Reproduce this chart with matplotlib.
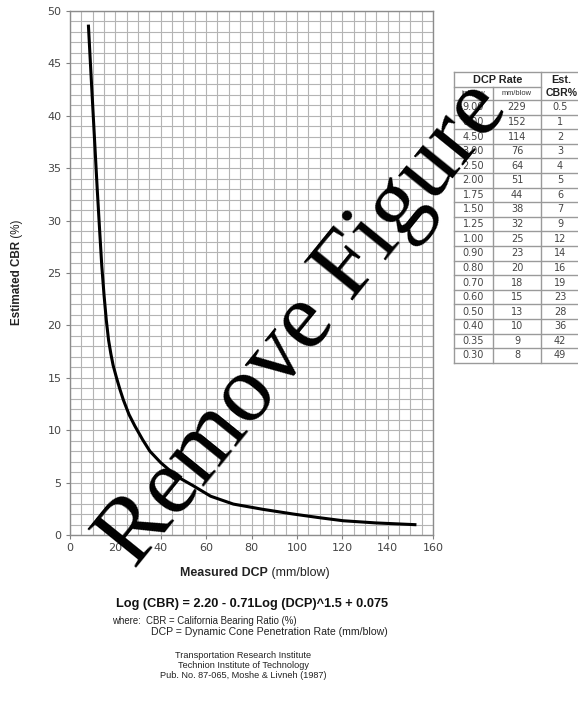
import matplotlib
matplotlib.use("Agg")
import matplotlib.pyplot as plt
from matplotlib.lines import Line2D
import numpy as np

# ---- data ----
curve_dcp = [8.1, 9, 10, 11, 12, 13, 14, 15, 16, 17, 18, 19, 20.5, 22, 23.5, 26, 28.6, 32, 35.2, 40, 47, 54.3, 62, 72, 85, 98.4, 110, 120.4, 135, 152.7]
curve_cbr = [48.7, 45.0, 41.0, 37.0, 33.0, 29.3, 25.7, 22.9, 20.5, 18.6, 17.3, 16.2, 15.0, 13.9, 12.9, 11.5, 10.4, 9.1, 8.0, 6.9, 5.6, 4.7, 3.7, 2.95, 2.45, 2.0, 1.65, 1.36, 1.15, 0.98]

x_ticks = [0, 20, 40, 60, 80, 100, 120, 140, 160]
y_ticks = [0, 5, 10, 15, 20, 25, 30, 35, 40, 45, 50]

tbl_in_blow = ["9.00", "6.00", "4.50", "3.00", "2.50", "2.00", "1.75", "1.50", "1.25", "1.00",
               "0.90", "0.80", "0.70", "0.60", "0.50", "0.40", "0.35", "0.30"]
tbl_mm_blow = ["229", "152", "114", "76", "64", "51", "44", "38", "32", "25",
               "23", "20", "18", "15", "13", "10", "9", "8"]
tbl_cbr = ["0.5", "1", "2", "3", "4", "5", "6", "7", "9", "12",
           "14", "16", "19", "23", "28", "36", "42", "49"]

W, H = 578, 705
plt.rcParams['font.family'] = ['Liberation Sans', 'DejaVu Sans']

fig = plt.figure(figsize=(W / 100, H / 100), dpi=100)
fig.patch.set_facecolor('white')

def fx(x):
    return x / W

def fy(y):
    return 1 - y / H

ax_l, ax_r, ax_t, ax_b = 70, 433, 11, 535
ax = fig.add_axes([fx(ax_l), fy(ax_b), fx(ax_r) - fx(ax_l), fy(ax_t) - fy(ax_b)])
ax.set_xlim(0, 160)
ax.set_ylim(0, 50)
ax.set_xticks(x_ticks)
ax.set_yticks(y_ticks)
ax.set_xticks(np.arange(0, 161, 5), minor=True)
ax.set_yticks(np.arange(0, 51, 1), minor=True)
ax.grid(which='both', color='#b4b4b4', lw=0.8)
ax.set_axisbelow(True)
ax.tick_params(which='minor', length=0)
ax.tick_params(which='major', length=3, color='#808080', labelsize=8, labelcolor='#444444', pad=3)
for lab in ax.get_xticklabels() + ax.get_yticklabels():
    lab.set_family('DejaVu Sans')
for s in ax.spines.values():
    s.set_color('#8c8c8c')
    s.set_linewidth(1.0)

ax.plot(curve_dcp, curve_cbr, color='black', lw=2.2, solid_capstyle='butt')

fig.canvas.draw()
r = fig.canvas.get_renderer()

def mixed(x, y, bold, normal, size, rotation=0):
    t1 = fig.text(0, 0, bold, fontsize=size, fontweight='bold', color='#222222', rotation=rotation)
    t2 = fig.text(0, 0, " " + normal, fontsize=size, color='#222222', rotation=rotation)
    e1 = t1.get_window_extent(r)
    e2 = t2.get_window_extent(r)
    if rotation == 0:
        total = e1.width + e2.width
        x0 = x - total / 2
        t1.set_position((fx(x0), fy(y)))
        t2.set_position((fx(x0 + e1.width), fy(y)))
        t1.set_va('center'); t2.set_va('center')
    else:
        total = e1.height + e2.height
        y0 = y + total / 2
        t1.set_position((fx(x), fy(y0)))
        t2.set_position((fx(x), fy(y0 - e1.height)))
        t1.set_rotation_mode('anchor'); t2.set_rotation_mode('anchor')
        t1.set_va('center'); t2.set_va('center')
        t1.set_ha('left'); t2.set_ha('left')

mixed(255, 573, "Measured DCP", "(mm/blow)", 8.9)
mixed(17, 272, "Estimated CBR", "(%)", 8.4, rotation=90)

fig.text(fx(252), fy(604), "Log (CBR) = 2.20 - 0.71Log (DCP)^1.5 + 0.075", fontsize=9.2,
         fontweight='bold', ha='center', va='center', color='#111111')
fig.text(fx(112), fy(621), "where:  CBR = California Bearing Ratio (%)", fontsize=6.9,
         ha='left', va='center', color='#222222')
fig.text(fx(151), fy(632), "DCP = Dynamic Cone Penetration Rate (mm/blow)", fontsize=7.6,
         ha='left', va='center', color='#222222')
for txt, yy in [("Transportation Research Institute", 655),
                ("Technion Institute of Technology", 665.5),
                ("Pub. No. 87-065, Moshe & Livneh (1987)", 676)]:
    fig.text(fx(243), fy(yy), txt, fontsize=6.6, ha='center', va='center', color='#222222')

# ---- table ----
tl, c1, c2, tr = 454, 493, 541, 590
ttop, h1, h2 = 72, 87, 100
rh = 14.6
nrows = len(tbl_in_blow)
tbot = h2 + rh * nrows
lc = '#9a9a9a'

def hline(y, x0, x1):
    fig.add_artist(Line2D([fx(x0), fx(x1)], [fy(y), fy(y)], color=lc, lw=1.0))

def vline(x, y0, y1):
    fig.add_artist(Line2D([fx(x), fx(x)], [fy(y0), fy(y1)], color=lc, lw=1.0))

hline(ttop, tl, tr)
hline(h1, tl, c2)
hline(h2, tl, tr)
for i in range(1, nrows + 1):
    hline(h2 + rh * i, tl, tr)
vline(tl, ttop, tbot)
vline(c2, ttop, tbot)
vline(c1, h1, tbot)

fig.text(fx((tl + c2) / 2), fy((ttop + h1) / 2 + 0.5), "DCP Rate", fontsize=7.8, fontweight='bold',
         ha='center', va='center', color='#222222')
fig.text(fx(561), fy((ttop + h1) / 2 + 0.5), "Est.", fontsize=7.8, fontweight='bold',
         ha='center', va='center', color='#222222')
fig.text(fx((tl + c1) / 2), fy((h1 + h2) / 2), "in/blow", fontsize=5.4,
         ha='center', va='center', color='#333333')
fig.text(fx((c1 + c2) / 2), fy((h1 + h2) / 2), "mm/blow", fontsize=5.4,
         ha='center', va='center', color='#333333')
fig.text(fx(562), fy((h1 + h2) / 2), "CBR%", fontsize=7.6, fontweight='bold',
         ha='center', va='center', color='#222222')
for i in range(nrows):
    yc = h2 + rh * (i + 0.5)
    kw = dict(fontsize=7.0, ha='center', va='center', color='#444444', family='DejaVu Sans')
    fig.text(fx((tl + c1) / 2), fy(yc), tbl_in_blow[i], **kw)
    fig.text(fx((c1 + c2) / 2), fy(yc), tbl_mm_blow[i], **kw)
    fig.text(fx(560), fy(yc), tbl_cbr[i], **kw)

# ---- watermark ----
fig.text(fx(304), fy(325), "Remove Figure", fontsize=69, family='Liberation Serif',
         rotation=51, rotation_mode='anchor', ha='center', va='center', color='black')

fig.savefig("out.png", dpi=100, facecolor='white')
